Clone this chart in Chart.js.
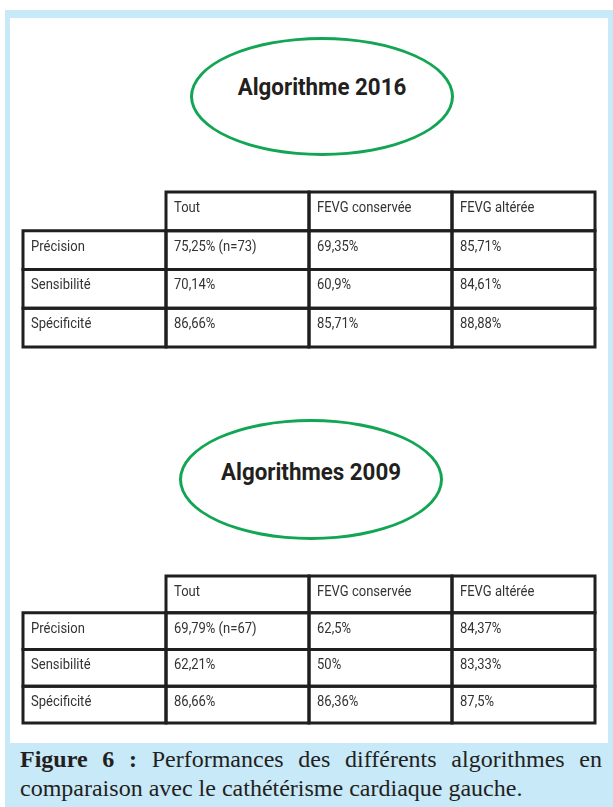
<!DOCTYPE html>
<html lang="fr">
<head>
<meta charset="utf-8">
<title>Figure 6</title>
<script src="https://cdn.jsdelivr.net/npm/chart.js@4.4.1/dist/chart.umd.min.js"></script>
<style>
  body { margin: 0; width: 613px; height: 807px; background: #fff; position: relative; overflow: hidden; }
  #frame { position: absolute; left: 5px; top: 10px; width: 608px; height: 797px; background: #c8e9f8; }
  #panel { position: absolute; left: 10px; top: 18px; width: 598px; height: 725px; background: #fff; }
  .oval {
    position: absolute; box-sizing: border-box; border: 3px solid #12a553; border-radius: 50%;
    font: bold 24px Roboto, sans-serif; color: #231f20; text-align: center;
  }
  .oval span { display: block; transform: scaleX(0.93); }
  .tbl { position: absolute; }
  #caption {
    position: absolute; left: 20px; top: 745px; width: 582px;
    font: 24px "Liberation Serif", serif; line-height: 29px; color: #231f20;
    text-align: justify; text-align-last: left;
  }
</style>
</head>
<body>
<div id="frame"></div>
<div id="panel"></div>

<div class="oval" style="left:190px; top:37px; width:264px; height:119px;"><span style="padding-top:33px">Algorithme 2016</span></div>
<div class="tbl" style="left:21px; top:190px; width:576px; height:159px;"><canvas id="table2016"></canvas></div>

<div class="oval" style="left:179px; top:419px; width:264px; height:121px;"><span style="padding-top:36px">Algorithmes 2009</span></div>
<div class="tbl" style="left:21px; top:574px; width:576px; height:151px;"><canvas id="table2009"></canvas></div>

<div id="caption"><b>Figure 6 :</b> Performances des différents algorithmes en comparaison avec le cathétérisme cardiaque gauche.</div>

<script>
// Column headers and row labels of both tables
const columns = ['Tout', 'FEVG conservée', 'FEVG altérée'];
const metrics = ['Précision', 'Sensibilité', 'Spécificité'];

// Algorithme 2016 (%)
const precision2016 = [75.25, 69.35, 85.71];
const sensibilite2016 = [70.14, 60.9, 84.61];
const specificite2016 = [86.66, 85.71, 88.88];
const effectif2016 = 73;

// Algorithmes 2009 (%)
const precision2009 = [69.79, 62.5, 84.37];
const sensibilite2009 = [62.21, 50, 83.33];
const specificite2009 = [86.66, 86.36, 87.5];
const effectif2009 = 67;

/** French percent label: 75.25 -> "75,25%" */
function pct(v) {
    return String(v).replace('.', ',') + '%';
}

/**
 * Draws the cell borders and the cell texts on top of the bars.
 */
const tableCells = {
    id: 'tableCells',
    afterDatasetsDraw(chart) {
        const ctx = chart.ctx;
        ctx.save();
        chart.data.datasets.forEach((ds, r) => {
            chart.getDatasetMeta(r).data.forEach((bar, c) => {
                if (ds.data[c] == null) return;
                const left = bar.x - bar.width / 2;
                const top = Math.min(bar.y, bar.base);
                const height = Math.abs(bar.base - bar.y);
                ctx.lineWidth = 3;
                ctx.strokeStyle = '#1f1f1f';
                ctx.strokeRect(left, top, bar.width, height);
                ctx.save();
                ctx.translate(left + 8, top + 16);
                ctx.scale(0.84, 1);
                ctx.fillStyle = '#333';
                ctx.font = '15.5px Roboto, sans-serif';
                ctx.textBaseline = 'middle';
                ctx.fillText(ds.cellLabels[c], 0, 0);
                ctx.restore();
            });
        });
        ctx.restore();
    }
};

/**
 * Creates one table as a floating bar chart: one dataset per row, one category per column.
 * @param {string} elementId - canvas id.
 * @param {Array<Array<number>>} rows - values of each metric row.
 * @param {number} n - number of patients.
 */
function createTable(elementId, rows, n) {
    const keys = ['label'].concat(columns);
    const header = {
        data: keys.map((k, c) => c === 0 ? null : [0, 1]),
        cellLabels: [''].concat(columns)
    };
    const body = rows.map((values, i) => ({
        data: keys.map(() => [i + 1, i + 2]),
        cellLabels: [metrics[i]].concat(values.map((v, c) =>
            (i === 0 && c === 0) ? pct(v) + ' (n=' + n + ')' : pct(v)))
    }));
    const datasets = [header].concat(body).map(d => Object.assign(d, {
        backgroundColor: '#ffffff',
        borderWidth: 0,
        categoryPercentage: 1,
        barPercentage: 1,
        grouped: false
    }));
    return new Chart(document.getElementById(elementId), {
        type: 'bar',
        data: { labels: keys, datasets },
        options: {
            responsive: true,
            maintainAspectRatio: false,
            animation: false,
            layout: { padding: 2 },
            plugins: { legend: { display: false }, tooltip: { enabled: false } },
            scales: {
                x: { type: 'category', display: false, offset: true },
                y: { type: 'linear', display: false, min: 0, max: 4, reverse: true }
            }
        },
        plugins: [tableCells]
    });
}

createTable('table2016', [precision2016, sensibilite2016, specificite2016], effectif2016);
createTable('table2009', [precision2009, sensibilite2009, specificite2009], effectif2009);
</script>
</body>
</html>
